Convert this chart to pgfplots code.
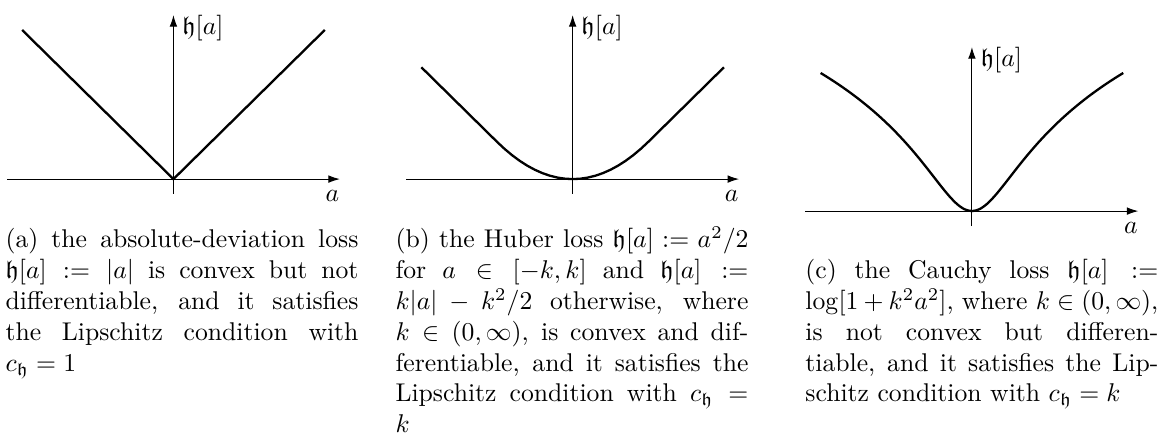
\documentclass[border=0pt]{standalone}
\usepackage{amsmath,amssymb}
\usepackage{pgfplots}
\pgfplotsset{compat=1.18}
\usetikzlibrary{arrows.meta}

\pgfplotsset{
  lossaxis/.style={
    scale only axis, width=129.7pt, height=69.7pt,
    xmin=-1.1, xmax=1.1, ymin=-0.1, ymax=1.1,
    axis lines=middle, ticks=none, clip=false, anchor=south west,
    axis line style={line width=0.4pt, -{Latex[length=4.5pt,width=3pt]}},
  },
  losscurve/.style={black, line width=0.9pt, no marks},
}
\newcommand{\hlab}{%
  \node[anchor=west, inner sep=0pt] at (axis cs:0.055,1.01) {$\mathfrak{h}[a]$};
  \node[inner sep=0pt] at (axis cs:1.05,-0.11) {$a$};}
% one caption line: justified (\jl) or natural width (\nl)
\newlength\capw \setlength\capw{137.5pt}
\newcommand{\jl}[3]{\node[anchor=base west, inner sep=0pt] at (#1pt,-#2pt) {\hbox to \capw{#3}};}
\newcommand{\nl}[3]{\node[anchor=base west, inner sep=0pt] at (#1pt,-#2pt) {#3};}

\begin{document}
\begin{tikzpicture}
\path[use as bounding box] (0,0) rectangle (453.5pt,-171.4pt);

% (a) absolute deviation
\begin{axis}[lossaxis, at={(2.73pt,-75.58pt)}]
  \addplot[losscurve] coordinates {(-1,1) (0,0) (1,1)};
  \hlab
\end{axis}

% (b) Huber, k = 1/2 (scaled)
\begin{axis}[lossaxis, at={(158.26pt,-75.58pt)}]
  \addplot[losscurve] coordinates {
    (-1,0.75) (-0.5,0.25) (-0.45,0.2025) (-0.4,0.16) (-0.35,0.1225) (-0.3,0.09)
    (-0.25,0.0625) (-0.2,0.04) (-0.15,0.0225) (-0.1,0.01) (-0.05,0.0025) (0,0)
    (0.05,0.0025) (0.1,0.01) (0.15,0.0225) (0.2,0.04) (0.25,0.0625) (0.3,0.09)
    (0.35,0.1225) (0.4,0.16) (0.45,0.2025) (0.5,0.25) (1,0.75)};
  \hlab
\end{axis}

% (c) Cauchy
\begin{axis}[lossaxis, at={(313.82pt,-88.05pt)}]
  \addplot[losscurve, smooth] coordinates {
    (-1,0.9265) (-0.95,0.8950) (-0.9,0.8620) (-0.85,0.8275) (-0.8,0.7912)
    (-0.75,0.7530) (-0.7,0.7126) (-0.65,0.6700) (-0.6,0.6249) (-0.55,0.5771)
    (-0.5,0.5263) (-0.45,0.4724) (-0.4,0.4152) (-0.35,0.3549) (-0.3,0.2917)
    (-0.25,0.2267) (-0.2,0.1618) (-0.15,0.1006) (-0.1,0.0485) (-0.05,0.0128) (0,0)
    (0.05,0.0128) (0.1,0.0485) (0.15,0.1006) (0.2,0.1618) (0.25,0.2267)
    (0.3,0.2917) (0.35,0.3549) (0.4,0.4152) (0.45,0.4724) (0.5,0.5263)
    (0.55,0.5771) (0.6,0.6249) (0.65,0.6700) (0.7,0.7126) (0.75,0.7530)
    (0.8,0.7912) (0.85,0.8275) (0.9,0.8620) (0.95,0.8950) (1,0.9265)};
  \hlab
\end{axis}

% captions
\jl{1.95}{96.62}{(a) the absolute-deviation loss}
\jl{1.95}{108.62}{$\mathfrak{h}[a] := |a|$ is convex but not}
\jl{1.95}{120.62}{differentiable, and it satisfies}
\jl{1.95}{132.62}{the Lipschitz condition with}
\nl{1.95}{144.62}{$c_{\mathfrak{h}} = 1$}

\jl{153.9}{96.62}{(b) the Huber loss $\mathfrak{h}[a] := a^2/2$}
\jl{153.9}{108.62}{for $a \in [-k,k]$ and $\mathfrak{h}[a] :=$}
\jl{153.9}{120.62}{$k|a| - k^2/2$ otherwise, where}
\jl{153.9}{132.62}{$k \in (0,\infty)$, is convex and dif-}
\jl{153.9}{144.62}{ferentiable, and it satisfies the}
\jl{153.9}{156.62}{Lipschitz condition with $c_{\mathfrak{h}} =$}
\nl{153.9}{168.62}{$k$}

\jl{313.6}{108.62}{(c) the Cauchy loss $\mathfrak{h}[a] :=$}
\jl{313.6}{120.62}{$\log[1+k^2a^2]$, where $k \in (0,\infty)$,}
\jl{313.6}{132.62}{is not convex but differen-}
\jl{313.6}{144.62}{tiable, and it satisfies the Lip-}
\nl{313.6}{156.62}{schitz condition with $c_{\mathfrak{h}} = k$}
\end{tikzpicture}
\end{document}
